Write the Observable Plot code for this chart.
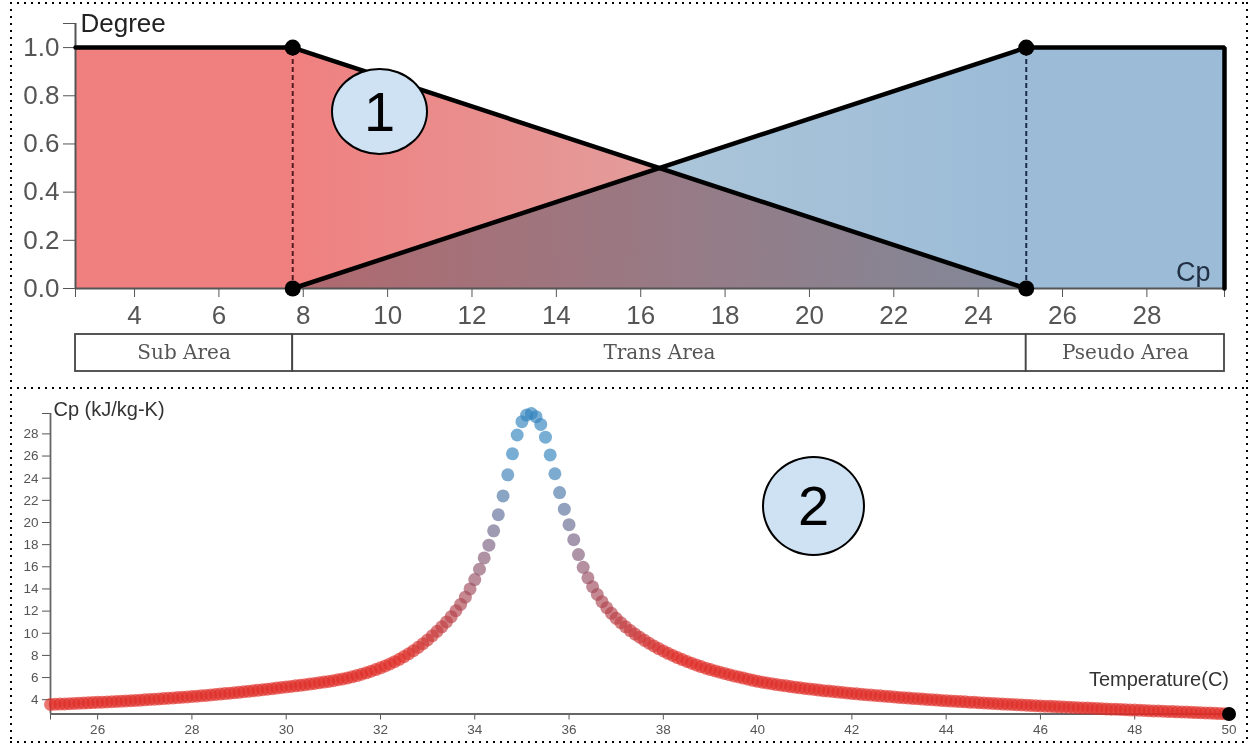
<!DOCTYPE html>
<html>
<head>
<meta charset="utf-8">
<script src="https://cdn.jsdelivr.net/npm/d3@7"></script>
<script src="https://cdn.jsdelivr.net/npm/@observablehq/plot@0.6"></script>
<style>
html, body { margin: 0; padding: 0; background: #fff; }
#root { position: relative; width: 1252px; height: 746px; overflow: hidden; font-family: "Liberation Sans", Arial, sans-serif; }
.chart { position: absolute; left: 0; }
.box { position: absolute; pointer-events: none;
  background:
    repeating-linear-gradient(to right, #000 0 2px, transparent 2px 7px) left top / 100% 2px no-repeat,
    repeating-linear-gradient(to right, #000 0 2px, transparent 2px 7px) left bottom / 100% 2px no-repeat,
    repeating-linear-gradient(to bottom, #000 0 2px, transparent 2px 7px) left top / 2px 100% no-repeat,
    repeating-linear-gradient(to bottom, #000 0 2px, transparent 2px 7px) right top / 2px 100% no-repeat;
}
.badge { position: absolute; box-sizing: border-box; border: 2px solid #000; border-radius: 50%;
  background: #cfe2f3; display: flex; align-items: center; justify-content: center;
  font-family: "Liberation Sans", Arial, sans-serif; font-size: 56px; color: #000; line-height: 1; }
</style>
</head>
<body>
<div id="root">
  <div id="top" class="chart" style="top:0px"></div>
  <div id="bands" class="chart" style="top:330px"></div>
  <div id="bottom" class="chart" style="top:388px"></div>
  <div class="box" style="left:10px;top:2px;width:1238px;height:387px"></div>
  <div class="box" style="left:10px;top:387px;width:1238px;height:356px"></div>
  <div class="badge" style="left:331px;top:68px;width:97px;height:87px">1</div>
  <div class="badge" style="left:762px;top:456px;width:103px;height:100px">2</div>
</div>
<script>
// ---------- data: membership chart (1) ----------
const cpDomain = [2.6, 29.84];
const breakpoints = [7.75, 25.14];
const subCurveCp = [2.6, 7.75, 25.14];
const subCurveDeg = [1, 1, 0];
const pseudoCurveCp = [7.75, 25.14, 29.84, 29.84];
const pseudoCurveDeg = [0, 1, 1, 0];
const degreeTicks = [0, 0.2, 0.4, 0.6, 0.8, 1.0];
const cpTicks = [4, 6, 8, 10, 12, 14, 16, 18, 20, 22, 24, 26, 28];
const areaNames = ["Sub Area", "Trans Area", "Pseudo Area"];
const areaBounds = [2.6, 7.75, 25.14, 29.84];

// ---------- data: Cp vs temperature chart (2) ----------
const temperatures = [
25.0,25.1,25.2,25.3,25.4,25.5,25.6,25.7,25.8,25.9,
26.0,26.1,26.2,26.3,26.4,26.5,26.6,26.7,26.8,26.9,
27.0,27.1,27.2,27.3,27.4,27.5,27.6,27.7,27.8,27.9,
28.0,28.1,28.2,28.3,28.4,28.5,28.6,28.7,28.8,28.9,
29.0,29.1,29.2,29.3,29.4,29.5,29.6,29.7,29.8,29.9,
30.0,30.1,30.2,30.3,30.4,30.5,30.6,30.7,30.8,30.9,
31.0,31.1,31.2,31.3,31.4,31.5,31.6,31.7,31.8,31.9,
32.0,32.1,32.2,32.3,32.4,32.5,32.6,32.7,32.8,32.9,
33.0,33.1,33.2,33.3,33.4,33.5,33.6,33.7,33.8,33.9,
34.0,34.1,34.2,34.3,34.4,34.5,34.6,34.7,34.8,34.9,
35.0,35.1,35.2,35.3,35.4,35.5,35.6,35.7,35.8,35.9,
36.0,36.1,36.2,36.3,36.4,36.5,36.6,36.7,36.8,36.9,
37.0,37.1,37.2,37.3,37.4,37.5,37.6,37.7,37.8,37.9,
38.0,38.1,38.2,38.3,38.4,38.5,38.6,38.7,38.8,38.9,
39.0,39.1,39.2,39.3,39.4,39.5,39.6,39.7,39.8,39.9,
40.0,40.1,40.2,40.3,40.4,40.5,40.6,40.7,40.8,40.9,
41.0,41.1,41.2,41.3,41.4,41.5,41.6,41.7,41.8,41.9,
42.0,42.1,42.2,42.3,42.4,42.5,42.6,42.7,42.8,42.9,
43.0,43.1,43.2,43.3,43.4,43.5,43.6,43.7,43.8,43.9,
44.0,44.1,44.2,44.3,44.4,44.5,44.6,44.7,44.8,44.9,
45.0,45.1,45.2,45.3,45.4,45.5,45.6,45.7,45.8,45.9,
46.0,46.1,46.2,46.3,46.4,46.5,46.6,46.7,46.8,46.9,
47.0,47.1,47.2,47.3,47.4,47.5,47.6,47.7,47.8,47.9,
48.0,48.1,48.2,48.3,48.4,48.5,48.6,48.7,48.8,48.9,
49.0,49.1,49.2,49.3,49.4,49.5,49.6,49.7,49.8,49.9,
50.0];
const cpValues = [
3.57,3.59,3.61,3.62,3.64,3.66,3.68,3.70,3.72,3.74,
3.76,3.78,3.80,3.82,3.84,3.87,3.89,3.91,3.94,3.96,
3.99,4.02,4.04,4.07,4.10,4.13,4.16,4.19,4.22,4.25,
4.29,4.32,4.36,4.39,4.43,4.47,4.51,4.55,4.59,4.63,
4.67,4.72,4.76,4.81,4.85,4.90,4.95,5.00,5.05,5.10,
5.15,5.20,5.25,5.30,5.35,5.41,5.47,5.53,5.59,5.65,
5.72,5.80,5.88,5.97,6.07,6.18,6.30,6.43,6.57,6.72,
6.88,7.05,7.23,7.43,7.65,7.89,8.15,8.43,8.73,9.05,
9.40,9.78,10.17,10.58,11.02,11.50,12.03,12.60,13.26,14.00,
14.85,15.78,16.80,17.95,19.25,20.70,22.40,24.30,26.20,27.90,
29.10,29.70,29.84,29.55,28.85,27.70,26.10,24.40,22.70,21.20,
19.80,18.45,17.10,15.95,15.00,14.20,13.50,12.85,12.30,11.80,
11.35,10.95,10.58,10.24,9.93,9.64,9.36,9.10,8.85,8.62,
8.40,8.19,7.99,7.80,7.62,7.45,7.29,7.14,6.99,6.85,
6.72,6.60,6.48,6.37,6.26,6.15,6.05,5.95,5.85,5.75,
5.66,5.58,5.51,5.44,5.37,5.31,5.25,5.19,5.13,5.07,
5.02,4.97,4.92,4.87,4.82,4.78,4.74,4.69,4.65,4.61,
4.57,4.53,4.49,4.45,4.42,4.38,4.35,4.31,4.28,4.25,
4.21,4.18,4.15,4.12,4.09,4.06,4.03,4.00,3.97,3.94,
3.91,3.88,3.86,3.83,3.81,3.78,3.76,3.73,3.71,3.68,
3.66,3.64,3.61,3.59,3.57,3.55,3.53,3.51,3.48,3.46,
3.44,3.42,3.40,3.38,3.36,3.34,3.32,3.30,3.28,3.26,
3.25,3.23,3.21,3.19,3.17,3.15,3.14,3.12,3.10,3.08,
3.06,3.05,3.03,3.01,2.99,2.98,2.96,2.94,2.93,2.91,
2.89,2.88,2.86,2.84,2.83,2.81,2.79,2.77,2.75,2.73,
2.71];
const cpAxisDomain = [2.71, 29.84];
const tempTicks = [26, 28, 30, 32, 34, 36, 38, 40, 42, 44, 46, 48, 50];
const cpAxisTicks = [4, 6, 8, 10, 12, 14, 16, 18, 20, 22, 24, 26, 28];

// ---------- styling ----------
const sansFont = "'Liberation Sans', Arial, Helvetica, sans-serif";
const subColor = "rgb(240,128,128)";
const pseudoColor = "rgb(155,187,215)";
const lowColor = "#de2d26", highColor = "#3182bd";

// ---------- tables built from arrays ----------
const subCurve = subCurveCp.map((cp, i) => ({cp, deg: subCurveDeg[i]}));
const pseudoCurve = pseudoCurveCp.map((cp, i) => ({cp, deg: pseudoCurveDeg[i]}));
const knots = breakpoints.flatMap(cp => [{cp, deg: 0}, {cp, deg: 1}]);
const bands = areaNames.map((name, i) => ({name, x1: areaBounds[i], x2: areaBounds[i + 1]}));
const cpData = temperatures.map((t, i) => ({t, cp: cpValues[i]}));

// ---------- chart 1 ----------
const topSvg = Plot.plot({
  width: 1252, height: 330,
  marginLeft: 75, marginRight: 28, marginTop: 23, marginBottom: 42,
  style: {fontFamily: sansFont, fontSize: "26px", color: "#555", background: "white", overflow: "visible"},
  x: {domain: cpDomain, ticks: [cpDomain[0], ...cpTicks, cpDomain[1]],
      tickFormat: d => cpTicks.includes(d) ? String(d) : "", tickSize: 9, tickPadding: 8, label: null},
  y: {domain: [0, 1.1], ticks: [...degreeTicks, 1.1],
      tickFormat: d => d > 1.05 ? "" : d.toFixed(1), tickSize: 12, tickPadding: 4, label: null},
  marks: [
    Plot.areaY(subCurve.slice(0, 2), {x: "cp", y: "deg", fill: subColor}),
    Plot.areaY(pseudoCurve.slice(1, 3), {x: "cp", y: "deg", fill: pseudoColor}),
    Plot.areaY(subCurve.slice(1), {x: "cp", y: "deg", fill: "url(#gradA)"}),
    Plot.areaY(pseudoCurve.slice(0, 2), {x: "cp", y: "deg", fill: "url(#gradB)"}),
    Plot.ruleX([breakpoints[0]], {y1: 0, y2: 1, stroke: "#5a1c1e", strokeWidth: 2, strokeDasharray: "5,3"}),
    Plot.ruleX([breakpoints[1]], {y1: 0, y2: 1, stroke: "#1b2d4a", strokeWidth: 2, strokeDasharray: "5,3"}),
    Plot.ruleY([0], {stroke: "#555", strokeWidth: 2}),
    Plot.ruleX([cpDomain[0]], {y1: 0, y2: 1.1, stroke: "#555", strokeWidth: 2}),
    Plot.line(subCurve, {x: "cp", y: "deg", stroke: "#000", strokeWidth: 4.5, strokeLinejoin: "miter"}),
    Plot.line(pseudoCurve, {x: "cp", y: "deg", stroke: "#000", strokeWidth: 4.5, strokeLinejoin: "miter"}),
    Plot.dot(knots, {x: "cp", y: "deg", r: 8, fill: "#000"}),
    Plot.text(["Degree"], {x: () => cpDomain[0], y: () => 1.1, text: d => d, textAnchor: "start",
      lineAnchor: "middle", dx: 5, fontSize: 26, fill: "#222"}),
    Plot.text(["Cp"], {x: () => cpDomain[1], y: () => 0, text: d => d, textAnchor: "end",
      lineAnchor: "bottom", dx: -14, dy: -8, fontSize: 27, fill: "#223044"})
  ]
});
const NS = "http://www.w3.org/2000/svg";
const defs = document.createElementNS(NS, "defs");
defs.innerHTML =
  '<linearGradient id="gradA" x1="0" x2="1" y1="0" y2="0">' +
  '<stop offset="0" stop-color="rgb(240,128,128)"/><stop offset="1" stop-color="rgb(212,186,182)"/></linearGradient>' +
  '<linearGradient id="gradB" x1="0" x2="1" y1="0" y2="0">' +
  '<stop offset="0" stop-color="rgb(188,208,219)"/><stop offset="1" stop-color="rgb(155,187,215)"/></linearGradient>';
topSvg.insertBefore(defs, topSvg.firstChild);
topSvg.querySelectorAll('[fill="url(#gradB)"]').forEach(n => { n.style.mixBlendMode = "multiply"; });
document.getElementById("top").appendChild(topSvg);

// ---------- band row ----------
const bandSvg = Plot.plot({
  width: 1252, height: 50,
  marginLeft: 75, marginRight: 28, marginTop: 4, marginBottom: 9,
  style: {background: "transparent", overflow: "visible"},
  x: {domain: cpDomain, axis: null},
  marks: [
    Plot.rect(bands, {x1: "x1", x2: "x2", fill: "white", stroke: "#444", strokeWidth: 1.8}),
    Plot.text(bands, {x: d => (d.x1 + d.x2) / 2, text: "name", fontFamily: "'DejaVu Serif', Georgia, serif",
      fontSize: 20, fill: "#555", lineAnchor: "middle"})
  ]
});
document.getElementById("bands").appendChild(bandSvg);

// ---------- chart 2 ----------
const botSvg = Plot.plot({
  width: 1252, height: 358,
  marginLeft: 50, marginRight: 23.5, marginTop: 25, marginBottom: 32.5,
  style: {fontFamily: sansFont, fontSize: "13.5px", color: "#555", background: "white", overflow: "visible"},
  x: {domain: [25, 50], ticks: [25, ...tempTicks], tickFormat: d => d === 25 ? "" : String(d),
      tickSize: 6, tickPadding: 4, label: null},
  y: {domain: cpAxisDomain, ticks: [...cpAxisTicks, cpAxisDomain[1]],
      tickFormat: d => cpAxisTicks.includes(d) ? String(d) : "", tickSize: 8, tickPadding: 4, label: null},
  color: {type: "linear", domain: breakpoints, range: [lowColor, highColor], clamp: true, interpolate: "rgb"},
  marks: [
    Plot.ruleY([cpAxisDomain[0]], {x1: 25, x2: 50, stroke: "#666", strokeWidth: 1.8}),
    Plot.ruleX([25], {y1: cpAxisDomain[0], y2: cpAxisDomain[1], stroke: "#666", strokeWidth: 1.8}),
    Plot.dot(cpData, {x: "t", y: "cp", r: 6.5, fill: "cp", fillOpacity: 0.65}),
    Plot.dot(cpData.slice(-1), {x: "t", y: "cp", r: 7, fill: "#000"}),
    Plot.text(["Cp (kJ/kg-K)"], {x: () => 25, y: () => cpAxisDomain[1], text: d => d, textAnchor: "start",
      lineAnchor: "bottom", dx: 3, dy: 2, fontSize: 20, fill: "#333"}),
    Plot.text(["Temperature(C)"], {x: () => 50, y: () => cpAxisDomain[0], text: d => d, textAnchor: "end",
      lineAnchor: "bottom", dx: 0, dy: -28, fontSize: 20, fill: "#333"})
  ]
});
document.getElementById("bottom").appendChild(botSvg);
</script>
</body>
</html>
